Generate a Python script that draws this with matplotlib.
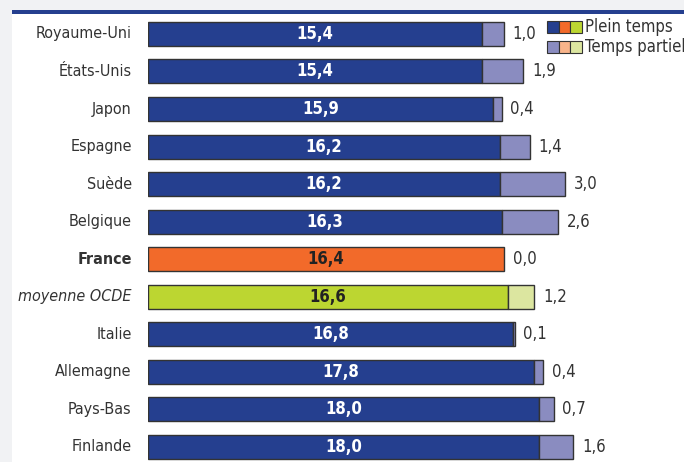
import matplotlib.pyplot as plt
from matplotlib.patches import Rectangle

# Données : durée de scolarité (années), plein temps / temps partiel
pays = ['Royaume-Uni', 'États-Unis', 'Japon', 'Espagne', 'Suède', 'Belgique',
        'France', 'moyenne OCDE', 'Italie', 'Allemagne', 'Pays-Bas', 'Finlande']
plein_temps = [15.4, 15.4, 15.9, 16.2, 16.2, 16.3, 16.4, 16.6, 16.8, 17.8, 18.0, 18.0]
temps_partiel = [1.0, 1.9, 0.4, 1.4, 3.0, 2.6, 0.0, 1.2, 0.1, 0.4, 0.7, 1.6]

# Couleurs
bleu, bleu_clair = '#253f8f', '#8a8cc0'
orange, orange_clair = '#f26a2a', '#f8b48a'
vert, vert_clair = '#bcd631', '#dce6a0'
couleurs = {'France': (orange, orange_clair), 'moyenne OCDE': (vert, vert_clair)}

plt.rcParams['font.family'] = ['DejaVu Sans']
plt.rcParams['font.stretch'] = 'condensed'

W, H = 684, 462
fig = plt.figure(figsize=(W / 100, H / 100), dpi=100)
fig.patch.set_facecolor('#f1f2f4')

# Fond blanc et bande bleue en haut
fig.add_artist(Rectangle((12 / W, 0), 1 - 12 / W, 1 - 14 / H, transform=fig.transFigure,
                         facecolor='white', edgecolor='none', zorder=0))
fig.add_artist(Rectangle((12 / W, 1 - 14 / H), 1 - 12 / W, 4 / H, transform=fig.transFigure,
                         facecolor='#253f8f', edgecolor='none', zorder=0))

ax = fig.add_axes([148 / W, 0, 1 - 148 / W, 1 - 14 / H])
ax.set_facecolor('none')
for s in ax.spines.values():
    s.set_visible(False)
ax.set_xticks([])
ax.set_yticks([])
ax.set_xlim(0, 536 / 21.7)
ax.set_ylim(11.4, -0.53)

for i, p in enumerate(pays):
    c1, c2 = couleurs.get(p, (bleu, bleu_clair))
    ax.barh(i, plein_temps[i], height=0.64, color=c1, edgecolor='#333333', linewidth=1)
    if temps_partiel[i] > 0:
        ax.barh(i, temps_partiel[i], left=plein_temps[i], height=0.64, color=c2,
                edgecolor='#333333', linewidth=1)
    txt_col = 'white' if p not in couleurs else '#222222'
    ax.text(plein_temps[i] / 2, i, f'{plein_temps[i]:.1f}'.replace('.', ','),
            ha='center', va='center', color=txt_col, fontsize=12, fontweight='bold')
    ax.text(plein_temps[i] + temps_partiel[i] + 0.4, i,
            f'{temps_partiel[i]:.1f}'.replace('.', ','),
            ha='left', va='center', color='#333333', fontsize=12)
    style = 'italic' if p == 'moyenne OCDE' else 'normal'
    weight = 'bold' if p == 'France' else 'normal'
    ax.text(-0.75, i, p, ha='right', va='center', color='#333333', fontsize=11.5,
            fontstyle=style, fontweight=weight)

# Légende
leg = [('Plein temps', (bleu, orange, vert), 21),
       ('Temps partiel', (bleu_clair, orange_clair, vert_clair), 41)]
for label, cols, y in leg:
    for k, c in enumerate(cols):
        fig.add_artist(Rectangle(((547 + k * 11.5) / W, 1 - (y + 12) / H), 11.5 / W, 12 / H,
                                 transform=fig.transFigure, facecolor=c,
                                 edgecolor='#333333', linewidth=0.8))
    fig.text(585 / W, 1 - (y + 6) / H, label, ha='left', va='center',
             fontsize=12, color='#333333')

fig.savefig('out.png', dpi=100, facecolor=fig.get_facecolor())
